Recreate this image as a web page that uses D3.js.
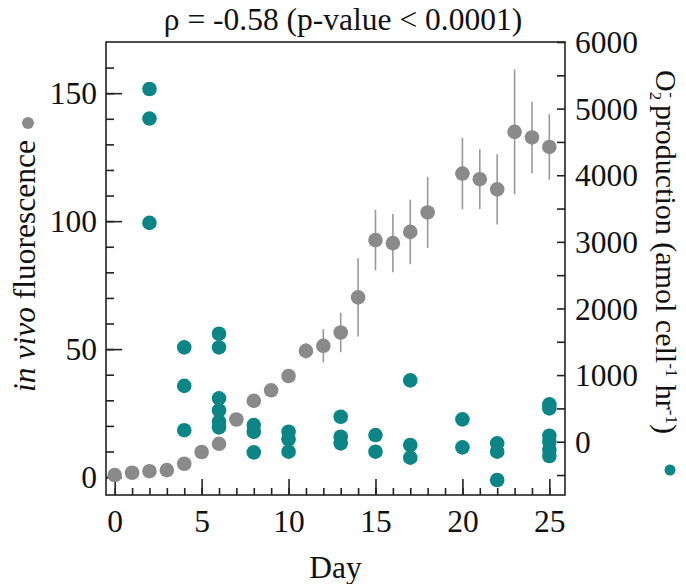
<!DOCTYPE html>
<html>
<head>
<meta charset="utf-8">
<script src="https://cdn.jsdelivr.net/npm/d3@7"></script>
<style>
  html, body { margin: 0; padding: 0; background: #fff; }
  svg { display: block; }
  text { font-family: "Liberation Serif", "Times New Roman", serif; fill: #111; }
</style>
</head>
<body>
<svg id="chart" width="686" height="584"></svg>
<script>
// ---- data ----
const flDays = [0,1,2,3,4,5,6,7,8,9,10,11,12,13,14,15,16,17,18,20,21,22,23,24,25];
const flMean = [0.8,1.7,2.3,2.7,5.2,9.8,13,22.5,29.8,33.9,39.5,49.3,51.3,56.5,70.2,92.6,91.4,95.8,103.4,118.6,116.4,112.4,134.9,132.7,129];
const flErr  = [0.3,0.3,0.4,0.4,0.6,1,1.5,1.5,2,2,2.5,3,6.5,7.7,15.3,11.8,11.4,12.6,13.9,14,11.7,13.7,24.4,14,12.8];

const o2Days   = [2,2,2, 4,4,4, 6,6,6,6,6,6, 8,8,8, 10,10,10, 13,13,13, 15,15, 17,17,17, 20,20, 22,22,22, 25,25,25,25,25,25];
const o2Values = [5295,4851,3285, 1416,838,173, 1620,1415,651,470,300,215, 250,150,-160, 150,35,-150, 375,75,-25, 100,-150, 920,-50,-240, 335,-85, -25,-150,-575, 560,500,90,0,-120,-215];

const dayMajor = [0,5,10,15,20,25];
const dayMinor = d3.range(0,26,1);
const flMajor = [0,50,100,150];
const flMinor = d3.range(0,170,10);
const o2Ticks = d3.range(-500,6001,500);
const o2Labels = [0,1000,2000,3000,4000,5000,6000];

const titleText = "ρ = -0.58 (p-value < 0.0001)";

// ---- layout ----
const L = 106, R = 565, T = 42, B = 495;
const FS = 31.5;
const grey = "#8a8a8a", teal = "#0b8585";

const svg = d3.select("#chart");

const x = d3.scaleLinear().domain([-0.5, 25.9]).range([L, R]);
const yL = d3.scaleLinear().domain([-7, 170]).range([B, T]);
const yR = d3.scaleLinear().domain([-800, 6000]).range([B, T]);

// frame
svg.append("rect").attr("x", L).attr("y", T).attr("width", R - L).attr("height", B - T)
  .attr("fill", "none").attr("stroke", "#222").attr("stroke-width", 1.6);

function styleAxis(g) {
  g.select(".domain").remove();
  g.selectAll(".tick line").attr("stroke", "#222").attr("stroke-width", 1.6);
  g.selectAll("text").style("font-family", '"Liberation Serif", serif').style("font-size", FS + "px").attr("fill", "#111");
}

// bottom axis
svg.append("g").attr("transform", `translate(0,${B})`)
  .call(d3.axisBottom(x).tickValues(dayMinor).tickSize(-7).tickFormat(""))
  .call(styleAxis);
svg.append("g").attr("transform", `translate(0,${B})`)
  .call(d3.axisBottom(x).tickValues(dayMajor).tickSize(-16).tickPadding(16))
  .call(styleAxis)
  .call(g => g.selectAll("text").attr("y", 37).attr("dy", 0));

// left axis
svg.append("g").attr("transform", `translate(${L},0)`)
  .call(d3.axisLeft(yL).tickValues(flMinor).tickSize(-8).tickFormat(""))
  .call(styleAxis);
svg.append("g").attr("transform", `translate(${L},0)`)
  .call(d3.axisLeft(yL).tickValues(flMajor).tickSize(-16).tickPadding(9))
  .call(styleAxis)
  .call(g => g.selectAll("text").attr("dy", "0.34em"));

// right axis
svg.append("g").attr("transform", `translate(${R},0)`)
  .call(d3.axisRight(yR).tickValues(o2Ticks).tickSize(-8).tickPadding(10)
    .tickFormat(d => o2Labels.includes(d) ? String(d) : ""))
  .call(styleAxis)
  .call(g => g.selectAll("text").attr("dy", "0.34em"));

// error bars
const fl = flDays.map((d, i) => ({day: d, m: flMean[i], e: flErr[i]}));
svg.append("g").selectAll("line").data(fl).join("line")
  .attr("x1", d => x(d.day)).attr("x2", d => x(d.day))
  .attr("y1", d => yL(d.m - d.e)).attr("y2", d => yL(d.m + d.e))
  .attr("stroke", "#999").attr("stroke-width", 1.6);

// fluorescence points
svg.append("g").selectAll("circle").data(fl).join("circle")
  .attr("cx", d => x(d.day)).attr("cy", d => yL(d.m)).attr("r", 7.3)
  .attr("fill", grey);

// O2 points
const o2 = o2Days.map((d, i) => ({day: d, v: o2Values[i]}));
svg.append("g").selectAll("circle").data(o2).join("circle")
  .attr("cx", d => x(d.day)).attr("cy", d => yR(d.v)).attr("r", 7.3)
  .attr("fill", teal);

// title
svg.append("text").attr("x", 343).attr("y", 30).attr("text-anchor", "middle")
  .style("font-size", FS + "px").text(titleText);

// x label
svg.append("text").attr("x", (L + R) / 2).attr("y", 578).attr("text-anchor", "middle")
  .style("font-size", FS + "px").text("Day");

// left label
const ll = svg.append("text").attr("transform", "translate(35,266) rotate(-90)")
  .attr("text-anchor", "middle").style("font-size", FS + "px");
ll.append("tspan").style("font-style", "italic").text("in vivo");
ll.append("tspan").text(" fluorescence");
svg.append("circle").attr("cx", 28).attr("cy", 123).attr("r", 6).attr("fill", grey);

// right label
const rl = svg.append("text").attr("transform", "translate(656,252) rotate(90)")
  .attr("text-anchor", "middle").style("font-size", "30px");
const SS = 17;
rl.append("tspan").text("O");
rl.append("tspan").style("font-size", SS + "px").attr("dy", 6).text("2");
rl.append("tspan").style("font-size", SS + "px").attr("dx", -8).attr("dy", -16).text("-");
rl.append("tspan").attr("dx", 7).attr("dy", 10).text("production (amol cell");
rl.append("tspan").style("font-size", SS + "px").attr("dy", -10).text("-1");
rl.append("tspan").attr("dy", 10).text(" hr");
rl.append("tspan").style("font-size", SS + "px").attr("dy", -10).text("-1");
rl.append("tspan").attr("dy", 10).text(")");
svg.append("circle").attr("cx", 670).attr("cy", 470).attr("r", 5.5).attr("fill", teal);
</script>
</body>
</html>
